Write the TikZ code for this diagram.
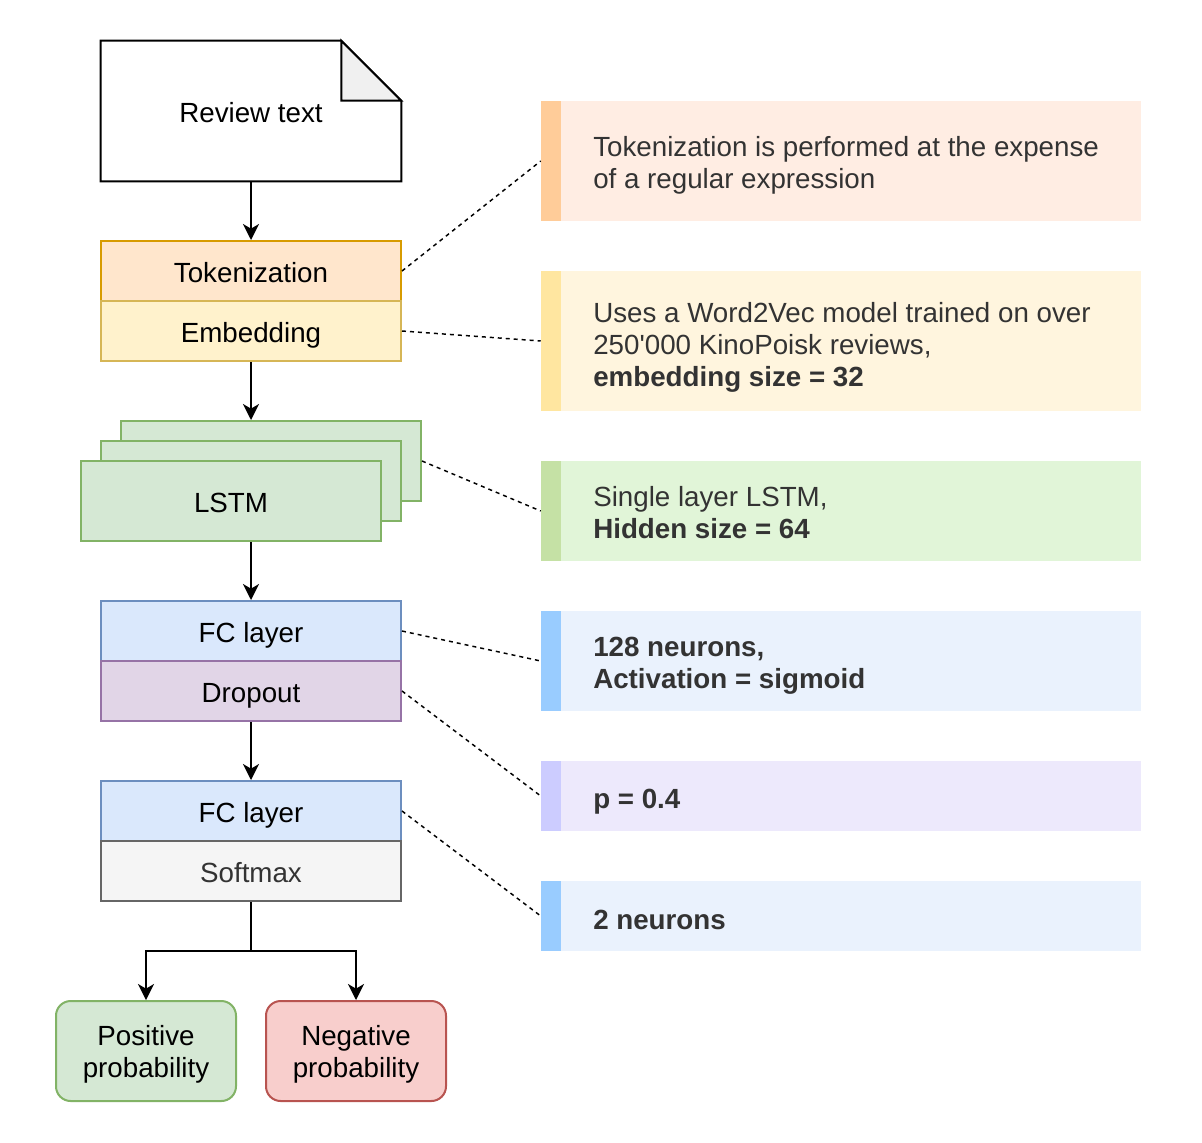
\documentclass[tikz,border=0pt]{standalone}
\usepackage{fontspec}
\setmainfont{Liberation Sans}[Ligatures=TeXOff]
\usetikzlibrary{arrows.meta}

% box colours
\definecolor{tokfill}{HTML}{FFE6CC}\definecolor{tokline}{HTML}{D79B00}
\definecolor{embfill}{HTML}{FFF2CC}\definecolor{embline}{HTML}{D6B656}
\definecolor{grnfill}{HTML}{D5E8D4}\definecolor{grnline}{HTML}{82B366}
\definecolor{blufill}{HTML}{DAE8FC}\definecolor{bluline}{HTML}{6C8EBF}
\definecolor{purfill}{HTML}{E1D5E7}\definecolor{purline}{HTML}{9673A6}
\definecolor{gryfill}{HTML}{F5F5F5}\definecolor{gryline}{HTML}{666666}
\definecolor{redfill}{HTML}{F8CECC}\definecolor{redline}{HTML}{B85450}
\definecolor{foldfill}{HTML}{F0F0F0}
\definecolor{txtgray}{HTML}{333333}
% annotation panel colours
\definecolor{aBar}{HTML}{FFCC99}\definecolor{aBody}{HTML}{FFEDE3}
\definecolor{bBar}{HTML}{FFE6A0}\definecolor{bBody}{HTML}{FFF5DE}
\definecolor{cBar}{HTML}{C5E1A5}\definecolor{cBody}{HTML}{E1F5D8}
\definecolor{dBar}{HTML}{99CCFF}\definecolor{dBody}{HTML}{EAF2FD}
\definecolor{eBar}{HTML}{CCCCFF}\definecolor{eBody}{HTML}{EDE9FC}

\begin{document}
\begin{tikzpicture}[x=0.75pt,y=-0.75pt,
  label font/.style={font=\fontsize{20.8}{24}\selectfont},
  box/.style={draw, line width=1.5pt, minimum width=225pt, minimum height=45pt,
    inner sep=0pt, text height=19.5pt, text depth=2pt, label font},
  lstmbox/.style={box, fill=grnfill, draw=grnline, minimum height=60pt},
  outbox/.style={draw, line width=1.5pt, rounded corners=11pt, minimum width=135pt,
    minimum height=75pt, inner sep=0pt},
  outlabel/.style={label={[label font, align=center, yshift=-2.5pt]center:#1}},
  arr/.style={line width=1.5pt, -{Stealth[length=12pt,width=12pt,inset=3.5pt]}},
  leader/.style={line width=1.1pt, dash pattern=on 3pt off 3pt},
  panel/.style 2 args={fill=#1, draw=none, minimum width=450pt, inner sep=0pt,
    path picture={\fill[#2] (path picture bounding box.south west)
      rectangle ([xshift=15pt]path picture bounding box.north west);}},
  notetext/.style={anchor=west, align=left, inner sep=0pt, text=txtgray, label font}
]
\useasboundingbox (0,0) rectangle (1202,1142);

% input document with folded corner
\node[minimum width=225pt, minimum height=105pt, inner sep=0pt] (review) at (251,111) {};
\draw[line width=1.5pt, fill=white] (review.north west) -- ([xshift=-45pt]review.north east)
  -- ([yshift=-45pt]review.north east) -- (review.south east) -- (review.south west) -- cycle;
\draw[line width=1.5pt, fill=foldfill, line join=miter] ([xshift=-45pt]review.north east)
  -- ([xshift=-45pt,yshift=-45pt]review.north east) -- ([yshift=-45pt]review.north east) -- cycle;
\node[label font] (reviewlabel) at ([yshift=-1.5pt]review.center) {Review text};

% preprocessing
\node[box, fill=tokfill, draw=tokline] (tok) at (251,271) {Tokenization};
\node[box, fill=embfill, draw=embline] (emb) at (251,331) {Embedding};

% recurrent stack
\node[lstmbox] (lstm3) at (271,461) {};
\node[lstmbox] (lstm2) at (251,481) {};
\node[lstmbox] (lstm) at (231,501) {LSTM};

% dense layers
\node[box, fill=blufill, draw=bluline] (fc1) at (251,631) {FC layer};
\node[box, fill=purfill, draw=purline] (drop) at (251,691) {Dropout};
\node[box, fill=blufill, draw=bluline] (fc2) at (251,811) {FC layer};
\node[box, fill=gryfill, draw=gryline, text=txtgray] (soft) at (251,871) {Softmax};

% outputs
\node[outbox, fill=grnfill, draw=grnline, outlabel={Positive\\probability}] (pos) at (146,1051) {};
\node[outbox, fill=redfill, draw=redline, outlabel={Negative\\probability}] (neg) at (356,1051) {};

% flow
\draw[arr] (review.south) -- (tok.north);
\draw[arr] (emb.south) -- (emb.south |- lstm3.north);
\draw[arr] (lstm.south -| lstm2.south) -- (fc1.north);
\draw[arr] (drop.south) -- (fc2.north);
\coordinate (split) at (251,951);
\draw[line width=1.5pt] (soft.south) -- (split);
\draw[arr] (split) -| (pos.north);
\draw[arr] (split) -| (neg.north);

% annotation panels
\node[panel={aBody}{aBar}, minimum height=90pt] (p1) at (841,161) {};
\node[panel={bBody}{bBar}, minimum height=105pt] (p2) at (841,341) {};
\node[panel={cBody}{cBar}, minimum height=75pt] (p3) at (841,511) {};
\node[panel={dBody}{dBar}, minimum height=75pt] (p4) at (841,661) {};
\node[panel={eBody}{eBar}, minimum height=52.5pt] (p5) at (841,796) {};
\node[panel={dBody}{dBar}, minimum height=52.5pt] (p6) at (841,916) {};

\node[notetext] (t1) at (593,165) {Tokenization is performed at the expense\\of a regular expression};
\node[notetext] (t2) at (593,347) {Uses a Word2Vec model trained on over\\250'000 KinoPoisk reviews,\\\textbf{embedding size = 32}};
\node[notetext] (t3) at (593,513) {Single layer LSTM,\\\textbf{Hidden size = 64}};
\node[notetext] (t4) at (593,666) {\textbf{128 neurons,}\\\textbf{Activation = sigmoid}};
\node[notetext] (t5) at (593,802) {\textbf{p = 0.4}};
\node[notetext] (t6) at (593,920) {\textbf{2 neurons}};

% leaders
\draw[leader] (tok.east) -- (p1.west);
\draw[leader] (emb.east) -- (p2.west);
\draw[leader] (lstm3.east) -- (p3.west);
\draw[leader] (fc1.east) -- (p4.west);
\draw[leader] (drop.east) -- (p5.west);
\draw[leader] (fc2.east) -- (p6.west);
\end{tikzpicture}
\end{document}
